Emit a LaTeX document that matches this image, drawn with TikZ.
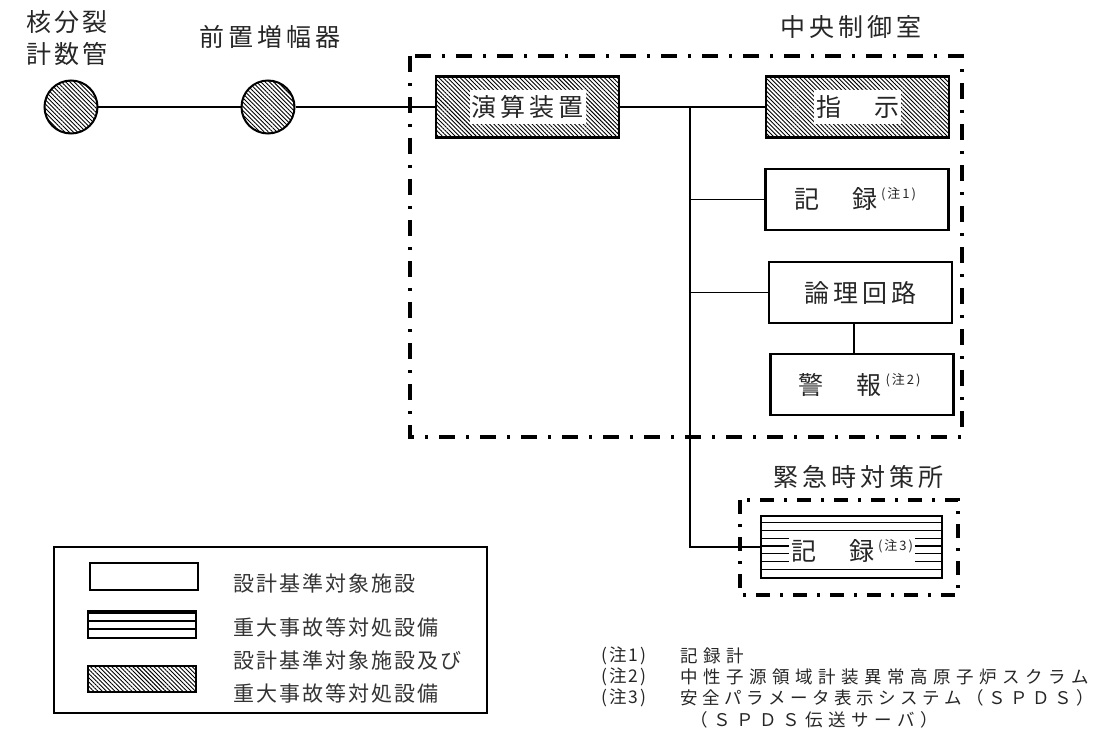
\documentclass[tikz,border=0pt]{standalone}
\usepackage{fontspec}
\newfontfamily\jp{Noto Sans CJK JP}
\usetikzlibrary{patterns.meta,calc}
\makeatletter
\newcommand\lsp[2]{\@tfor\lsch:=#2\do{\lsch\kern#1}\unkern}
\makeatother
\newcommand\nsup[1]{\kern4pt\raisebox{10pt}{\fontsize{13}{13}\selectfont\lsp{2pt}{(注#1)}}}
\begin{document}
\begin{tikzpicture}[x=1pt,y=-1pt,
  lbl/.style={font=\jp\fontsize{25}{28}\selectfont, text=black!85, inner sep=0pt},
  leg/.style={font=\jp\fontsize{21}{24}\selectfont, text=black!80, inner sep=0pt, anchor=west},
  note/.style={font=\jp\fontsize{17.5}{20}\selectfont, text=black!85, inner sep=0pt, anchor=west},
  box/.style={draw, line width=2.2pt, inner sep=0pt, minimum width=183pt, minimum height=61pt},
  hatch/.style={pattern={Lines[angle=-45,distance=3pt,line width=0.9pt]}},
  circ/.style={circle, draw, line width=2pt, minimum size=53pt, inner sep=0pt},
  ddbox/.style={line width=4pt, dash pattern=on 16pt off 11pt on 3pt off 11pt},
  ddsmall/.style={line width=4pt, dash pattern=on 14pt off 10pt on 3pt off 10pt},
  conn/.style={line width=1.8pt},
  whitetxt/.style={lbl, fill=white, inner xsep=2pt, minimum height=34pt}]
\useasboundingbox (0,0) rectangle (1103,746);

% left chain
\node[circ,hatch] (nf) at (71,107) {};
\node[circ,hatch] (pa) at (268,107) {};
\node[lbl] (nft1) at (67,22) {\lsp{3pt}{核分裂}};
\node[lbl] (nft2) at (67,54) {\lsp{3pt}{計数管}};
\node[lbl] (pat) at (270,37) {\lsp{4pt}{前置増幅器}};

% central control room
\draw[ddbox] (410,56) rectangle (962,437);
\node[lbl] (ccr) at (851,27) {\lsp{4pt}{中央制御室}};

\node[box,hatch] (calc) at (527.5,107) {};
\node[whitetxt] (calct) at (calc) {\lsp{4pt}{演算装置}};

\node[box,hatch] (shiji) at (857.5,107) {};
\node[whitetxt] (shijit) at (shiji) {\lsp{4pt}{指　示}};

\node[box] (rec1) at (857,199.5) {};
\node[lbl] (rec1t) at (855,199.5) {\lsp{4pt}{記　録}\nsup{1}};

\node[box] (logic) at (860.5,292.5) {};
\node[lbl] (logict) at (logic) {\lsp{4pt}{論理回路}};

\node[box] (alarm) at (862,384.5) {};
\node[lbl] (alarmt) at (859.5,384.5) {\lsp{4pt}{警　報}\nsup{2}};

% emergency response center
\draw[ddsmall] (740,500) rectangle (958,595);
\node[lbl] (erc) at (858,477) {\lsp{4pt}{緊急時対策所}};
\node[box, minimum width=181pt, minimum height=62pt] (rec3) at (851.5,547) {};
\foreach \k in {1,...,7} {
  \draw[line width=1.3pt] ($(rec3.north west)+(0,7.75*\k)$) -- ($(rec3.north east)+(0,7.75*\k)$);
}
\node[lbl, fill=white, inner xsep=2pt, minimum height=33pt] (rec3t) at (852,551) {\lsp{4pt}{記　録}\nsup{3}};

% connectors
\coordinate (J) at (690,107);
\draw[conn] (nf) -- (pa);
\draw[conn] (pa) -- (calc);
\draw[conn] (calc.east) -- (shiji.west);
\draw[conn] (J) -- (J |- rec3.west) -- (rec3.west);
\draw[conn] (J |- rec1.west) -- (rec1.west);
\draw[conn] (J |- logic.west) -- (logic.west);
\draw[conn] ([xshift=-6.5pt]logic.south) -- ([xshift=-6.5pt]logic.south |- alarm.north);

% legend
\draw[line width=2pt] (54,547) rectangle (487,713);
\node[draw, line width=2pt, minimum width=108pt, minimum height=27pt, inner sep=0pt] (lg1) at (144,576.5) {};
\node[draw, line width=2pt, minimum width=108pt, minimum height=27pt, inner sep=0pt] (lg2) at (142,624.5) {};
\draw[line width=1.3pt] ($(lg2.north west)+(0,3)$) -- ($(lg2.north east)+(0,3)$);
\draw[line width=1.3pt] ($(lg2.north west)+(0,11)$) -- ($(lg2.north east)+(0,11)$);
\draw[line width=1.3pt] ($(lg2.north west)+(0,19)$) -- ($(lg2.north east)+(0,19)$);
\node[draw, line width=2pt, minimum width=108pt, minimum height=26pt, inner sep=0pt, hatch] (lg3) at (142,679) {};
\node[leg] (lt1) at (233,583) {\lsp{2pt}{設計基準対象施設}};
\node[leg] (lt2) at (233,627) {\lsp{2pt}{重大事故等対処設備}};
\node[leg] (lt3) at (233,660) {\lsp{2pt}{設計基準対象施設及び}};
\node[leg] (lt4) at (233,693) {\lsp{2pt}{重大事故等対処設備}};

% notes
\node[note] (n1) at (601,656) {\lsp{2pt}{(注1)}};
\node[note] (n1t) at (680,656) {\lsp{5.5pt}{記録計}};
\node[note] (n2) at (601,677) {\lsp{2pt}{(注2)}};
\node[note] (n2t) at (680,677) {\lsp{5.5pt}{中性子源領域計装異常高原子炉スクラム}};
\node[note] (n3) at (601,698) {\lsp{2pt}{(注3)}};
\node[note] (n3t) at (680,698) {\lsp{4.5pt}{安全パラメータ表示システム（ＳＰＤＳ）}};
\node[note] (n4t) at (690,720) {\lsp{5.5pt}{（ＳＰＤＳ伝送サーバ）}};
\end{tikzpicture}
\end{document}
